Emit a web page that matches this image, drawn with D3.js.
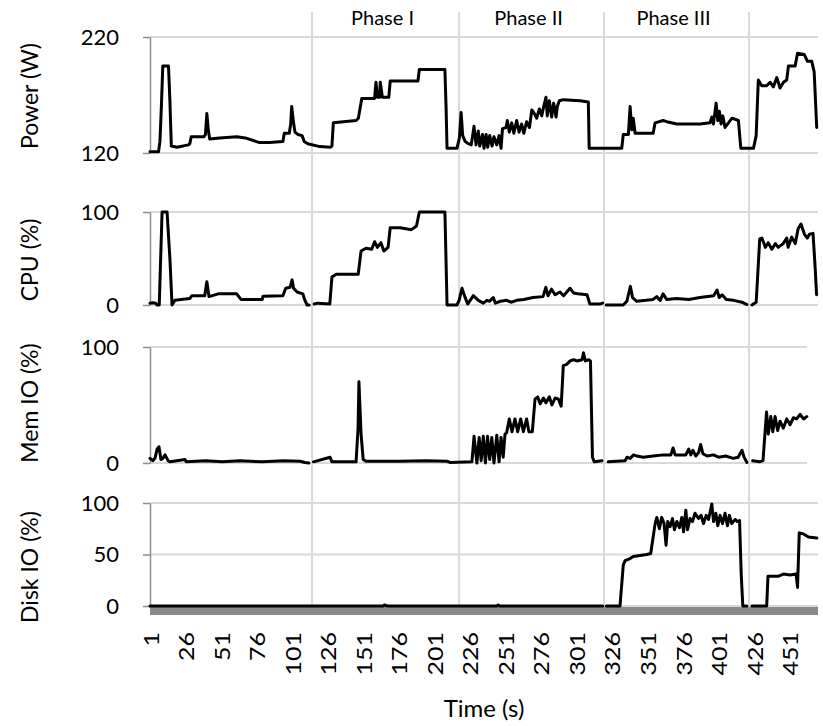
<!DOCTYPE html>
<html>
<head>
<meta charset="utf-8">
<title>Power and utilisation over time</title>
<script src="https://d3js.org/d3.v7.min.js"></script>
<style>
  html, body { margin: 0; padding: 0; background: #fff; }
  svg { display: block; font-family: Lato, "Open Sans", sans-serif; }
</style>
</head>
<body>
<svg id="chart" width="823" height="726"></svg>
<script>
// ---- data (time in s, value) ----
var timeTicks = [1, 26, 51, 76, 101, 126, 151, 176, 201, 226, 251, 276, 301, 326, 351, 376, 401, 426, 451];
var phaseNames = ["Phase I", "Phase II", "Phase III"];
var phaseBounds = [115, 218.5, 320.5, 422.5];

var powerData = [
  [1,121],[7,121],[8,130],[9,160],[10,195],[14,195],[15,165],[16,126],[20,125],[28,127],[29,128],[30,134],
  [39,134],[40,136],[41,154],[42,140],[43,132],[50,133],[62,134],[68,133],[78,129],[85,129],[94.5,130],
  [95.5,137],[99,137],[100,145],[100.7,160],[102,146],[103,138],[105,136],[108,135],[109.5,130],[112,128],
  [120.5,125.5],[128,125],[129,126],[130,146],[146,148],[147.6,150],[150,167],[159,167],[160,181],[161,168],
  [162.5,168],[163,181],[164.5,168],[169,168],[170,182],[189.5,182],[190.5,192],[208.5,192],[209.3,160],
  [210,124],[217,124],[218.7,133],[219.9,155],[221,135],[222.7,130],[225,128],[227,127],[229,143],[230.4,127],
  [232,139],[233,126],[235,136],[236,124],[237.5,136],[238.6,125],[240,135],[241.7,126],[243,134],[245,127],
  [246.6,135],[248,124],[249,141],[251.5,142],[252.4,148],[253.8,138],[255.5,146],[257,137],[259,148],
  [260.7,138],[262.5,145],[264,137],[266,147],[268,142],[269.6,157],[271,155],[273,150],[275,158],[276.6,152],
  [278,160],[279.6,168],[280.5,152],[282,165],[283.6,151],[285,163],[286.7,151],[287.6,160],[289,165],
  [291.8,166],[303.6,165],[309.4,164],[310,124],[332.9,124],[334,136],[337.6,136],[338.8,160],[340,140],
  [341,150],[342.3,137],[355,137],[356.4,146],[362,148],[364.6,147],[371.6,145],[388,145],[395,146],
  [396.3,151],[397.4,145],[399.3,163],[400.5,148],[401.6,156],[402.8,145],[404,152],[405.6,142],[408,146],
  [410.5,150],[415,148],[416.7,124],[425.6,124],[427.5,135],[429,183],[431.4,178],[434.9,178],[437.3,181],
  [439.6,177],[442,185],[444.3,176],[446.7,181],[449,183],[450.2,195],[454.9,195],[456.6,206],[461.3,205],
  [463.6,199],[466.6,199],[468.3,190],[470.1,142]
];

var cpuData = [
  [1,2],[3,2.5],[5,2],[6,0],[7.5,0],[9.5,100],[13,100],[15,50],[16.5,0],[18.5,5],[29,7],[30.5,10],[39.5,10],
  [41,25],[42.5,9],[49,12],[62,12],[65,6],[80,6],[80.5,9.5],[94.5,10],[96.5,18],[99.5,19],[101,27],[102,18],
  [104.5,14],[108.5,12],[110,5],[111.5,0],[113,0],[114,null],[116.5,1],[119,2],[127.5,1],[129,30],[132,33],
  [147.5,33],[149.5,58],[153,61],[157,60],[159,68],[161,62],[163.5,67],[165.5,58],[168.5,62],[170,83],
  [177,83],[185,81],[188.5,85],[190.5,100],[208.5,100],[210,0],[217,0],[218.5,5],[220.5,18],[222.5,9],
  [224.5,1],[228.5,10],[232,5],[235.5,2],[238,5],[240,4],[242.5,8],[244,2],[247.5,4],[252,5],[255,3],
  [259,5],[264,6],[270.5,8],[277.5,9],[279.5,19],[281,10],[283.5,17],[286,11],[289.5,14],[292,10],
  [296.5,18],[299,13],[302,12],[308.5,11],[310.5,1],[317.5,1],[319.5,2],[320.5,null],[322,0],[334,0],
  [336.5,4],[339,20],[340.5,8],[343.5,4],[350,5],[355,6],[357.5,9],[360,5],[362,12],[364.5,6],[371.5,7],
  [380,6],[388,8],[397.5,10],[400,16],[401.5,8],[403.5,11],[406.5,6],[411.5,5],[417.5,3],[421,0.5],
  [422.5,null],[424.5,0],[427.5,3],[430,71],[431.5,72],[434,62],[436,67],[438.5,60],[441,66],[443,62],
  [446.5,66],[449,72],[450,62],[452.5,73],[455,66],[457,82],[459,87],[461.5,76],[463.5,72],[465,76],
  [467.5,77],[469,40],[470,11]
];

var memData = [
  [1,4],[3,2],[4.5,4],[6,12],[7.3,14],[8.7,3],[10,4],[11.6,7],[13.7,2],[15,1],[25.6,3],[26.5,1],[40,2],
  [52,1],[64,2],[80,1],[95,2],[106.6,1.5],[110,0.5],[112.8,0],[113.5,null],[116,1],[127.7,5],[129,1],
  [146,1],[147.4,30],[148,70],[149.5,25],[151,3],[153,1.5],[177,1.5],[195,2],[210,1.5],[212,0.5],
  [227.5,1],[229,23],[231,0],[232.6,22],[234,2],[235.5,23],[237,0],[238.5,23],[240,3],[241.5,22],[243,0],
  [245,24],[246.6,1],[248,22],[249.5,5],[250.8,25],[251.9,26],[253.8,38],[255.7,27],[257.8,38],[259.7,27],
  [261.8,38],[263.7,27],[266,38],[267.6,27],[270,27],[271.9,55],[273.8,57],[275.5,51],[277.8,56],
  [279.6,52],[282,57],[283.8,50],[286,56],[288.4,55],[290.3,49],[291.8,84],[294.2,85],[296.6,88],[299,89],
  [301.5,88],[305,89],[306,95],[307.3,88],[309.7,89],[310.9,88],[312.3,5],[313.6,1],[319,2],[320.3,null],
  [323.4,1],[335.3,2],[336.6,5],[338.8,4],[341.3,7],[343.5,6],[348,5],[355,6],[362.3,7],[367.5,7],[369,13],
  [370.5,7],[378,7],[380,12],[381.5,7],[383,11],[385,6],[387,9],[388.4,16],[390,8],[393,6],[397.4,7],
  [401,5],[406,6],[411.3,4],[414.8,5],[417.5,11],[419,5],[421,0.5],[422.5,null],[425,2],[430,1],[432.3,2],
  [434.8,44],[436,25],[437.8,40],[439.2,27],[440.8,40],[442.6,28],[444.3,36],[446.6,30],[449,38],
  [451.4,33],[453.7,39],[456,38],[458.4,42],[460.8,38],[463.1,40]
];

var diskData = [
  [1,0],[165,0],[166,1],[168,0],[245,0],[246,1],[247,0],[319.5,0],[320.5,null],[322,0],[331.7,0],[334,40],
  [335.3,44],[338.8,46],[341,48],[345.8,49],[350.5,50],[353.3,51],[356.4,80],[357.6,86],[359.4,75],[361,86],
  [362.7,80],[364.1,59],[365.3,82],[367,77],[368.6,85],[370,74],[371.7,82],[373.5,76],[375.2,86],[376.4,72],
  [378,93],[379.2,74],[381,85],[382.7,82],[384.5,90],[386.9,85],[388.8,88],[390.4,80],[392.3,88],[394,84],
  [396.3,99],[397.5,82],[399.1,90],[400.5,78],[402.1,88],[403.8,80],[405.6,90],[407.3,78],[408.7,88],
  [410.3,80],[412.7,84],[414.3,82],[415.8,83],[417,30],[418.1,0],[421,0],[422.5,null],[424.5,0],[434.9,0],
  [435.8,29],[443.2,29],[446.7,31],[451.4,30],[455.6,31],[456.6,18],[457.8,71],[460.8,70],[464.3,67],
  [470.2,66]
];

// ---- layout ----
var svg = d3.select("#chart");
var xLeft = 150, xRight = 818;
var x = d3.scaleLinear().domain([1, 471]).range([xLeft, xRight]);
var gridColor = "#d9d9d9";

var panels = [
  { data: powerData, title: "Power (W)",   domain: [120, 220], ticks: [120, 220],   top: 37,  bottom: 153, titleY: 96,  right: xRight },
  { data: cpuData,   title: "CPU (%)",     domain: [0, 100],   ticks: [0, 100],     top: 212, bottom: 305, titleY: 260, right: xRight },
  { data: memData,   title: "Mem IO (%)",  domain: [0, 100],   ticks: [0, 100],     top: 347, bottom: 463, titleY: 403, right: 807 },
  { data: diskData,  title: "Disk IO (%)", domain: [0, 100],   ticks: [0, 50, 100], top: 503, bottom: 606, titleY: 567, right: xRight }
];

// phase separators
svg.append("g").selectAll("line")
  .data(phaseBounds)
  .join("line")
  .attr("x1", function(d){ return x(d); })
  .attr("x2", function(d){ return x(d); })
  .attr("y1", 12)
  .attr("y2", 615)
  .attr("stroke", gridColor)
  .attr("stroke-width", 2);

svg.append("g").selectAll("text")
  .data(phaseNames)
  .join("text")
  .attr("x", function(d, i){ return (x(phaseBounds[i]) + x(phaseBounds[i + 1])) / 2 - 3; })
  .attr("y", 25)
  .attr("text-anchor", "middle")
  .attr("font-size", 20)
  .attr("fill", "#000")
  .text(function(d){ return d; });

// gray strip under the disk panel
svg.append("rect")
  .attr("x", xLeft)
  .attr("y", 607)
  .attr("width", xRight - xLeft)
  .attr("height", 8)
  .attr("fill", "#8a8a8a");

panels.forEach(function(p){
  var y = d3.scaleLinear().domain(p.domain).range([p.bottom, p.top]);

  // horizontal gridlines
  svg.append("g")
    .selectAll("line")
    .data(p.ticks)
    .join("line")
    .attr("x1", xLeft)
    .attr("x2", p.right)
    .attr("y1", function(d){ return y(d); })
    .attr("y2", function(d){ return y(d); })
    .attr("stroke", gridColor)
    .attr("stroke-width", 2);

  // y axis
  var ax = svg.append("g")
    .attr("transform", "translate(" + xLeft + ",0)")
    .call(d3.axisLeft(y).tickValues(p.ticks).tickSize(7).tickSizeOuter(0).tickPadding(24));
  ax.select(".domain").attr("stroke", "#8c8c8c").attr("stroke-width", 1.5);
  ax.selectAll(".tick line").attr("stroke", "#8c8c8c").attr("stroke-width", 1.5);
  ax.selectAll(".tick text")
    .attr("font-size", 22)
    .attr("font-family", "Lato, 'Open Sans', sans-serif")
    .attr("fill", "#000");

  // axis title
  svg.append("text")
    .attr("transform", "translate(29," + p.titleY + ") rotate(-90)")
    .attr("text-anchor", "middle")
    .attr("dominant-baseline", "central")
    .attr("font-size", 23)
    .attr("fill", "#000")
    .text(p.title);

  // series
  var line = d3.line()
    .defined(function(d){ return d[1] !== null; })
    .x(function(d){ return x(d[0]); })
    .y(function(d){ return y(d[1]); });

  svg.append("path")
    .datum(p.data)
    .attr("d", line)
    .attr("fill", "none")
    .attr("stroke", "#000")
    .attr("stroke-width", 3)
    .attr("stroke-linejoin", "round")
    .attr("stroke-linecap", "round");
});

// x axis labels
var xa = svg.append("g")
  .attr("transform", "translate(0,632)")
  .call(d3.axisBottom(x).tickValues(timeTicks).tickSize(0).tickFormat(d3.format("d")));
xa.select(".domain").remove();
xa.selectAll(".tick text")
  .attr("x", null)
  .attr("y", null)
  .attr("dy", null)
  .attr("transform", "rotate(-90) scale(1,0.82)")
  .attr("text-anchor", "end")
  .attr("dominant-baseline", "central")
  .attr("font-size", 25)
  .attr("font-family", "Lato, 'Open Sans', sans-serif")
  .attr("fill", "#000");

svg.append("text")
  .attr("x", (xLeft + xRight) / 2)
  .attr("y", 717)
  .attr("text-anchor", "middle")
  .attr("font-size", 24)
  .attr("fill", "#000")
  .text("Time (s)");
</script>
</body>
</html>
